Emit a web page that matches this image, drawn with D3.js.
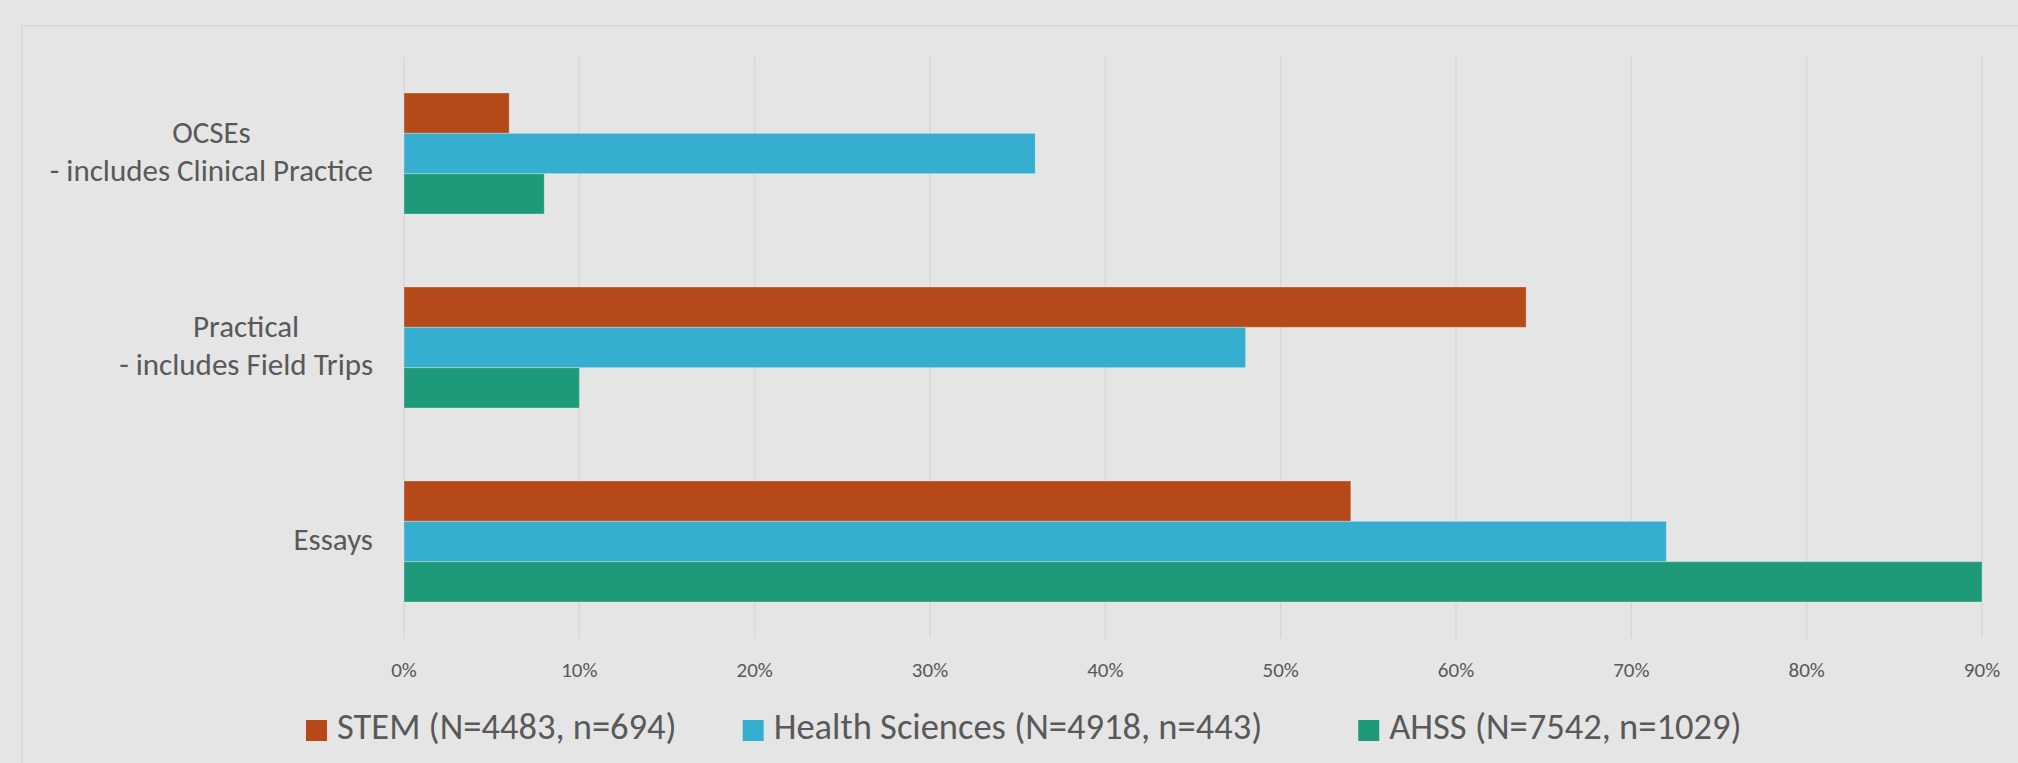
<!DOCTYPE html>
<html>
<head>
<meta charset="utf-8">
<script src="https://cdn.jsdelivr.net/npm/d3@7"></script>
<style>
  html, body { margin: 0; padding: 0; background: #e5e5e5; overflow: hidden; }
  text { font-family: Calibri, Carlito, Lato, sans-serif; }
</style>
</head>
<body>
<div id="chart"></div>
<script>
//////////////////// Data ////////////////////
const categories = [
  ["OCSEs", "- includes Clinical Practice"],
  ["Practical", "- includes Field Trips"],
  ["Essays"]
];
const seriesNames = ["STEM (N=4483, n=694)", "Health Sciences (N=4918, n=443)", "AHSS (N=7542, n=1029)"];
const stemValues = [0.06, 0.64, 0.54];
const healthValues = [0.36, 0.48, 0.72];
const ahssValues = [0.08, 0.10, 0.90];
const tickValues = [0, 0.1, 0.2, 0.3, 0.4, 0.5, 0.6, 0.7, 0.8, 0.9];
const colors = ["#b5491a", "#36aed0", "#1e9a7a"];

const W = 2018, H = 763;
const plot = {left: 404, right: 1982, top: 56.5, bottom: 638.5};
const textColor = "#595959";

const svg = d3.select("#chart").append("svg")
  .attr("width", W).attr("height", H);

//Chart area background + border
svg.append("rect").attr("width", W).attr("height", H).attr("fill", "#e5e5e5");
svg.append("rect")
  .attr("x", 22).attr("y", 26)
  .attr("width", W + 40).attr("height", H + 40)
  .attr("fill", "none").attr("stroke", "#d9d9d9").attr("stroke-width", 2);

//Scales
const x = d3.scaleLinear().domain([0, 0.9]).range([plot.left, plot.right]);
const y0 = d3.scaleBand()
  .domain(categories.map((d, i) => i))
  .range([plot.top, plot.bottom])
  .paddingInner(0.376).paddingOuter(0.188);
const y1 = d3.scaleBand().domain([0, 1, 2]).range([0, y0.bandwidth()]);

//Gridlines
svg.append("g").selectAll("line")
  .data(tickValues).enter().append("line")
  .attr("x1", d => x(d)).attr("x2", d => x(d))
  .attr("y1", plot.top).attr("y2", plot.bottom)
  .attr("stroke", "#d6d6d6").attr("stroke-width", 1.3);

//Tick labels
svg.append("g").selectAll("text")
  .data(tickValues).enter().append("text")
  .attr("x", d => x(d)).attr("y", 677)
  .attr("text-anchor", "middle")
  .attr("fill", textColor)
  .style("font-size", "21px")
  .text(d3.format(".0%"));

//Bars
const series = [stemValues, healthValues, ahssValues];
series.forEach((vals, s) => {
  svg.append("g").selectAll("rect")
    .data(vals).enter().append("rect")
    .attr("x", x(0))
    .attr("y", (d, i) => y0(i) + y1(s))
    .attr("width", d => x(d) - x(0))
    .attr("height", y1.bandwidth())
    .attr("fill", colors[s])
    .attr("stroke", "rgba(255,255,255,0.3)")
    .attr("stroke-width", 1);
});

//Category labels (lines centred inside a right-aligned block)
const labelRight = 373;
categories.forEach((lines, i) => {
  const cy = y0(i) + y0.bandwidth() / 2;
  const g = svg.append("g");
  const texts = lines.map((line, k) => {
    const dy = lines.length === 1 ? 8 : (k === 0 ? -11 : 27);
    return g.append("text")
      .attr("y", cy + dy)
      .attr("text-anchor", "middle")
      .attr("fill", textColor)
      .style("font-size", "31px")
      .text(line);
  });
  const maxW = d3.max(texts, t => t.node().getComputedTextLength());
  texts.forEach(t => t.attr("x", labelRight - maxW / 2));
});

//Legend
const legendGaps = [66, 96, 0];
let lx = 306;
seriesNames.forEach((name, s) => {
  svg.append("rect")
    .attr("x", lx).attr("y", 720)
    .attr("width", 21).attr("height", 21)
    .attr("fill", colors[s]);
  const t = svg.append("text")
    .attr("x", lx + 31).attr("y", 739)
    .attr("fill", textColor)
    .style("font-size", "36.5px")
    .text(name);
  lx += 31 + t.node().getComputedTextLength() + legendGaps[s];
});
</script>
</body>
</html>
